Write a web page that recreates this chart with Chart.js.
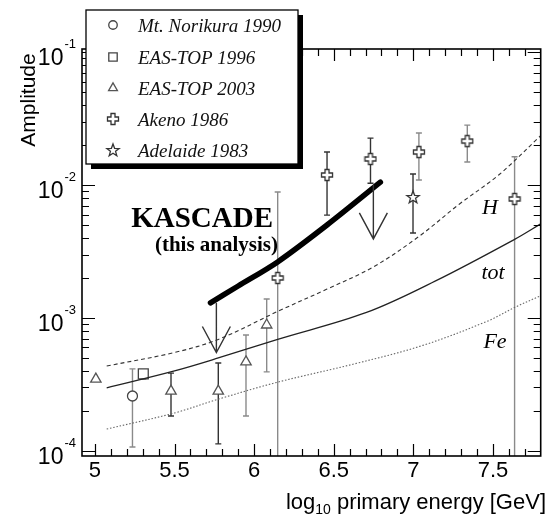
<!DOCTYPE html>
<html>
<head>
<meta charset="utf-8">
<script src="https://cdn.jsdelivr.net/npm/chart.js@4/dist/chart.umd.min.js"></script>
<style>
    html, body { margin: 0; padding: 0; background: #fff; }
</style>
</head>
<body>
<canvas id="anisoChart" width="549" height="519"></canvas>
<script>
// axis ranges and tick labels
const xMin = 4.919, xMax = 7.8;
const yMin = 9.16e-5, yMax = 0.1054;
const xTickValues = [5, 5.5, 6, 6.5, 7, 7.5];
const xTickLabels = ['5', '5.5', '6', '6.5', '7', '7.5'];
const yTickPowers = [-4, -3, -2, -1];

// Mt. Norikura 1990
const norikuraX = [5.236];
const norikuraY = [2.59e-4];
const norikuraLo = [1.07e-4];
const norikuraHi = [4.14e-4];

// EAS-TOP 1996
const eas96X = [5.304];
const eas96Y = [3.8e-4];
const eas96Lo = [3.45e-4];
const eas96Hi = [4.0e-4];

// EAS-TOP 2003
const eas03X = [5.006, 5.478, 5.775, 5.949, 6.079];
const eas03Y = [3.47e-4, 2.82e-4, 2.82e-4, 4.67e-4, 8.85e-4];
const eas03Lo = [null, 1.83e-4, 1.13e-4, 1.83e-4, 3.93e-4];
const eas03Hi = [null, 3.85e-4, 4.59e-4, 7.45e-4, 1.39e-3];

// Akeno 1986
const akenoX = [6.148, 6.458, 6.731, 7.035, 7.339, 7.636];
const akenoY = [2.0e-3, 1.19e-2, 1.57e-2, 1.77e-2, 2.14e-2, 7.85e-3];
const akenoLo = [5e-5, 5.94e-3, 1.03e-2, 1.09e-2, 1.49e-2, 5e-5];
const akenoHi = [8.85e-3, 1.77e-2, 2.25e-2, 2.46e-2, 2.82e-2, 1.63e-2];

// Adelaide 1983
const adelaideX = [6.998];
const adelaideY = [8.13e-3];
const adelaideLo = [4.35e-3];
const adelaideHi = [1.21e-2];

// KASCADE (this analysis) and its upper limits
const kascadeX = [5.726, 5.9, 6.148, 6.458, 6.793];
const kascadeY = [1.30e-3, 1.74e-3, 2.64e-3, 5.0e-3, 1.05e-2];
const limitX = [5.763, 6.749];
const limitFrom = [1.3e-3, 1.0e-2];
const limitTo = [5.5e-4, 3.93e-3];

// expectations: H, tot, Fe
const hX = [5.074, 5.5, 5.775, 6.148, 6.458, 6.749, 7.035, 7.29, 7.54, 7.8];
const hY = [4.35e-4, 5.5e-4, 6.9e-4, 1.12e-3, 1.65e-3, 2.42e-3, 4.1e-3, 7.2e-3, 1.2e-2, 2.35e-2];
const totX = [5.074, 5.5, 5.775, 6.148, 6.706, 7.14, 7.636, 7.8];
const totY = [2.98e-4, 4.0e-4, 5.0e-4, 6.9e-4, 1.1e-3, 1.9e-3, 3.9e-3, 5.1e-3];
const feX = [5.074, 5.5, 5.775, 6.148, 6.644, 7.06, 7.469, 7.636, 7.8];
const feY = [1.46e-4, 1.93e-4, 2.45e-4, 3.29e-4, 4.56e-4, 6.22e-4, 9.5e-4, 1.2e-3, 1.47e-3];

// error bar shades (gray or dark), per point
const GRAY = '#8a8a8a', DARK = '#333';
const eas03BarColor = [GRAY, DARK, DARK, GRAY, GRAY];
const akenoBarColor = [GRAY, DARK, DARK, GRAY, GRAY, GRAY];

function pts(xs, ys) {
    return xs.map((v, i) => ({ x: v, y: ys[i] }));
}

function makeSymbol(size, draw) {
    const c = document.createElement('canvas');
    c.width = size; c.height = size;
    const g = c.getContext('2d');
    g.fillStyle = '#fff';
    g.strokeStyle = '#333';
    g.lineWidth = 1.3;
    draw(g, size / 2);
    return c;
}

// outlined plus (Akeno)
const plusSymbol = makeSymbol(14, function (g, c) {
    const a = 5.5, w = 2;
    g.beginPath();
    g.moveTo(c - w, c - a); g.lineTo(c + w, c - a); g.lineTo(c + w, c - w);
    g.lineTo(c + a, c - w); g.lineTo(c + a, c + w); g.lineTo(c + w, c + w);
    g.lineTo(c + w, c + a); g.lineTo(c - w, c + a); g.lineTo(c - w, c + w);
    g.lineTo(c - a, c + w); g.lineTo(c - a, c - w); g.lineTo(c - w, c - w);
    g.closePath();
    g.fill(); g.stroke();
});

// outlined star (Adelaide)
const starSymbol = makeSymbol(16, function (g, c) {
    g.beginPath();
    for (let i = 0; i < 10; i++) {
        const r = i % 2 === 0 ? 6.5 : 2.7;
        const ang = -Math.PI / 2 + i * Math.PI / 5;
        const px = c + r * Math.cos(ang), py = c + 0.5 + r * Math.sin(ang);
        if (i === 0) g.moveTo(px, py); else g.lineTo(px, py);
    }
    g.closePath();
    g.fill(); g.stroke();
});

const markerBase = {
    showLine: false,
    backgroundColor: '#fff',
    borderColor: '#444',
    borderWidth: 1.3
};

const datasets = [
    { label: 'H', data: pts(hX, hY), showLine: true, pointRadius: 0, tension: 0.35, borderColor: '#333', borderWidth: 1.1, borderDash: [4, 3] },
    { label: 'tot', data: pts(totX, totY), showLine: true, pointRadius: 0, tension: 0.35, borderColor: '#222', borderWidth: 1.3 },
    { label: 'Fe', data: pts(feX, feY), showLine: true, pointRadius: 0, tension: 0.35, borderColor: '#666', borderWidth: 1.1, borderDash: [1.5, 1.8] },
    { label: 'KASCADE', data: pts(kascadeX, kascadeY), showLine: true, pointRadius: 0, tension: 0.3, borderColor: '#000', borderWidth: 5.5, borderCapStyle: 'round' },
    Object.assign({ label: 'Mt. Norikura 1990', data: pts(norikuraX, norikuraY), pointStyle: 'circle', pointRadius: 5,
        errLo: norikuraLo, errHi: norikuraHi, barColor: [GRAY] }, markerBase),
    Object.assign({ label: 'EAS-TOP 1996', data: pts(eas96X, eas96Y), pointStyle: 'rect', pointRadius: 7,
        errLo: eas96Lo, errHi: eas96Hi, barColor: [GRAY] }, markerBase),
    Object.assign({ label: 'EAS-TOP 2003', data: pts(eas03X, eas03Y), pointStyle: 'triangle', pointRadius: 6,
        errLo: eas03Lo, errHi: eas03Hi, barColor: eas03BarColor }, markerBase, { borderColor: '#555' }),
    Object.assign({ label: 'Akeno 1986', data: pts(akenoX, akenoY), pointStyle: plusSymbol, pointRadius: 6,
        errLo: akenoLo, errHi: akenoHi, barColor: akenoBarColor }, markerBase),
    Object.assign({ label: 'Adelaide 1983', data: pts(adelaideX, adelaideY), pointStyle: starSymbol, pointRadius: 6,
        errLo: adelaideLo, errHi: adelaideHi, barColor: [DARK] }, markerBase)
];

// vertical error bars with small caps, clipped to the plot
const errorBars = {
    id: 'errorBars',
    beforeDatasetsDraw(chart) {
        const { ctx, chartArea: a, scales: { x, y } } = chart;
        ctx.save();
        ctx.beginPath();
        ctx.rect(a.left, a.top, a.right - a.left, a.bottom - a.top);
        ctx.clip();
        ctx.lineWidth = 1.4;
        chart.data.datasets.forEach(ds => {
            if (!ds.errLo) return;
            ds.data.forEach((p, i) => {
                if (ds.errLo[i] == null) return;
                const px = x.getPixelForValue(p.x);
                const top = y.getPixelForValue(ds.errHi[i]);
                const bot = y.getPixelForValue(ds.errLo[i]);
                ctx.strokeStyle = ds.barColor[i];
                ctx.beginPath();
                ctx.moveTo(px, top); ctx.lineTo(px, bot);
                ctx.moveTo(px - 3, top); ctx.lineTo(px + 3, top);
                if (bot < a.bottom) { ctx.moveTo(px - 3, bot); ctx.lineTo(px + 3, bot); }
                ctx.stroke();
            });
        });
        ctx.restore();
    }
};

// upper limit arrows of KASCADE
const upperLimits = {
    id: 'upperLimits',
    afterDatasetsDraw(chart) {
        const { ctx, scales: { x, y } } = chart;
        ctx.save();
        ctx.strokeStyle = '#333';
        ctx.lineWidth = 1.4;
        limitX.forEach((v, i) => {
            const px = x.getPixelForValue(v);
            const y0 = y.getPixelForValue(limitFrom[i]);
            const y1 = y.getPixelForValue(limitTo[i]);
            ctx.beginPath();
            ctx.moveTo(px, y0); ctx.lineTo(px, y1);
            ctx.moveTo(px - 14, y1 - 26); ctx.lineTo(px, y1); ctx.lineTo(px + 14, y1 - 26);
            ctx.stroke();
        });
        ctx.restore();
    }
};

// frame, inward ticks, tick labels, titles, annotations and legend
const decor = {
    id: 'decor',
    afterDraw(chart) {
        const { ctx, chartArea: a, scales: { x, y } } = chart;
        ctx.save();

        ctx.strokeStyle = '#000';
        ctx.lineWidth = 1.2;
        ctx.beginPath();
        for (let i = 50; i <= 77; i++) {
            const px = Math.round(x.getPixelForValue(i / 10)) + 0.5;
            const len = i % 5 === 0 ? 12 : 7;
            ctx.moveTo(px, a.bottom); ctx.lineTo(px, a.bottom - len);
            ctx.moveTo(px, a.top); ctx.lineTo(px, a.top + len);
        }
        for (let e = -5; e <= -1; e++) {
            for (let k = 1; k < 10; k++) {
                const v = k * Math.pow(10, e);
                if (v < yMin || v > yMax) continue;
                const py = Math.round(y.getPixelForValue(v)) + 0.5;
                const len = k === 1 ? 13 : 7;
                ctx.moveTo(a.left, py); ctx.lineTo(a.left + len, py);
                ctx.moveTo(a.right, py); ctx.lineTo(a.right - len, py);
            }
        }
        ctx.stroke();
        ctx.lineWidth = 1.6;
        ctx.strokeRect(a.left, a.top, a.right - a.left, a.bottom - a.top);

        // tick labels
        ctx.fillStyle = '#000';
        ctx.font = '22px "Liberation Sans", Arial, sans-serif';
        ctx.textAlign = 'center';
        ctx.textBaseline = 'alphabetic';
        xTickValues.forEach((v, i) => {
            ctx.fillText(xTickLabels[i], x.getPixelForValue(v), a.bottom + 21);
        });
        yTickPowers.forEach(p => {
            const py = y.getPixelForValue(Math.pow(10, p));
            ctx.font = '13px "Liberation Sans", Arial, sans-serif';
            ctx.textAlign = 'right';
            const expText = String(p);
            ctx.fillText(expText, 76, py - 4);
            const ew = ctx.measureText(expText).width;
            ctx.font = '23px "Liberation Sans", Arial, sans-serif';
            ctx.fillText('10', 76 - ew - 1, py + 13);
        });

        // axis titles
        ctx.font = '22px "Liberation Sans", Arial, sans-serif';
        ctx.textAlign = 'left';
        const part1 = 'log', part2 = ' primary energy [GeV]';
        const w1 = ctx.measureText(part1).width;
        const w2 = ctx.measureText(part2).width;
        ctx.font = '14px "Liberation Sans", Arial, sans-serif';
        const wSub = ctx.measureText('10').width;
        let tx = 546 - (w1 + wSub + w2);
        ctx.font = '22px "Liberation Sans", Arial, sans-serif';
        ctx.fillText(part1, tx, 509);
        ctx.font = '14px "Liberation Sans", Arial, sans-serif';
        ctx.fillText('10', tx + w1, 514);
        ctx.font = '22px "Liberation Sans", Arial, sans-serif';
        ctx.fillText(part2, tx + w1 + wSub, 509);

        ctx.save();
        ctx.translate(35, 100);
        ctx.rotate(-Math.PI / 2);
        ctx.textAlign = 'center';
        ctx.font = '21px "Liberation Sans", Arial, sans-serif';
        ctx.fillText('Amplitude', 0, 0);
        ctx.restore();

        // annotations
        ctx.textAlign = 'right';
        ctx.font = 'bold 29px "Liberation Serif", "Times New Roman", serif';
        ctx.fillText('KASCADE', 273, 227);
        ctx.font = 'bold 21px "Liberation Serif", "Times New Roman", serif';
        ctx.fillText('(this analysis)', 278, 251);

        ctx.textAlign = 'center';
        ctx.textBaseline = 'middle';
        ctx.font = 'italic 22px "Liberation Serif", "Times New Roman", serif';
        ctx.fillText('H', 490, 208);
        ctx.fillText('tot', 493, 273);
        ctx.fillText('Fe', 495, 342);

        // legend box with drop shadow
        const lx = 86, ly = 10, lw = 212, lh = 154;
        ctx.fillStyle = '#000';
        ctx.fillRect(lx + 5, ly + 5, lw, lh);
        ctx.fillStyle = '#fff';
        ctx.fillRect(lx, ly, lw, lh);
        ctx.strokeStyle = '#000';
        ctx.lineWidth = 1.3;
        ctx.strokeRect(lx, ly, lw, lh);

        const entries = chart.data.datasets.filter(ds => ds.errLo);
        const rowY = [25, 57, 88, 119, 150];
        ctx.textAlign = 'left';
        ctx.textBaseline = 'alphabetic';
        ctx.font = 'italic 19px "Liberation Serif", "Times New Roman", serif';
        entries.forEach((ds, i) => {
            ctx.fillStyle = '#fff';
            ctx.strokeStyle = ds.borderColor;
            ctx.lineWidth = 1.3;
            Chart.helpers.drawPoint(ctx, {
                pointStyle: ds.pointStyle,
                radius: ds.pointRadius * 0.85,
                borderWidth: 1.3,
                rotation: 0
            }, 113, rowY[i]);
            ctx.fillStyle = '#111';
            ctx.fillText(ds.label, 138, rowY[i] + 7);
        });

        ctx.restore();
    }
};

const config = {
    type: 'scatter',
    data: { datasets: datasets },
    options: {
        responsive: false,
        animation: false,
        layout: { padding: { left: 82, right: 3, top: 49, bottom: 63 } },
        plugins: {
            legend: { display: false },
            tooltip: { enabled: false }
        },
        scales: {
            x: { type: 'linear', min: xMin, max: xMax, display: false },
            y: { type: 'logarithmic', min: yMin, max: yMax, display: false }
        }
    },
    plugins: [errorBars, upperLimits, decor]
};

window.anisoChart = new Chart(document.getElementById('anisoChart'), config);
</script>
</body>
</html>
